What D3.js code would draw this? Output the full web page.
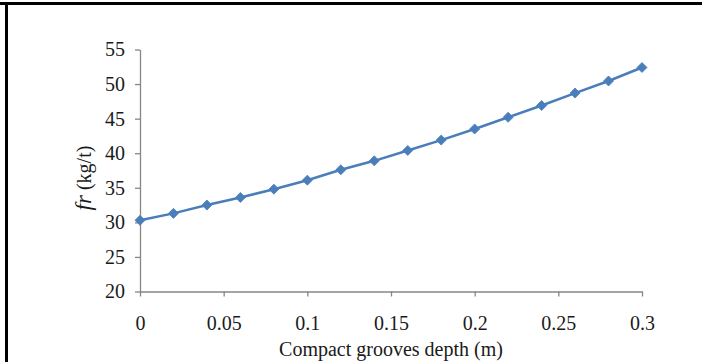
<!DOCTYPE html>
<html>
<head>
<meta charset="utf-8">
<script src="https://cdn.jsdelivr.net/npm/d3@7"></script>
<style>
  html, body { margin: 0; padding: 0; background: #fff; }
  svg { display: block; font-family: "Liberation Serif", "Times New Roman", serif; }
</style>
</head>
<body>
<svg id="chart" width="702" height="362"></svg>
<script>
// groove depth (m) and resistance fr (kg/t)
const depths = [0, 0.02, 0.04, 0.06, 0.08, 0.1, 0.12, 0.14, 0.16, 0.18, 0.2, 0.22, 0.24, 0.26, 0.28, 0.3];
const frValues = [30.3, 31.3, 32.5, 33.6, 34.8, 36.1, 37.6, 38.9, 40.4, 41.9, 43.5, 45.2, 46.9, 48.7, 50.45, 52.4];
const xTicks = [0, 0.05, 0.1, 0.15, 0.2, 0.25, 0.3];
const yTicks = [20, 25, 30, 35, 40, 45, 50, 55];

const svg = d3.select("#chart");
const axisColor = "#868686";
const lineColor = "#4a7ebb";
const textColor = "#1a1a1a";

// frame: thick black top and left edges
svg.append("rect").attr("x", 0).attr("y", 2).attr("width", 702).attr("height", 3).attr("fill", "#000");
svg.append("rect").attr("x", 5).attr("y", 2).attr("width", 3).attr("height", 360).attr("fill", "#000");

const x = d3.scaleLinear().domain([0, 0.3]).range([140, 642]);
const y = d3.scaleLinear().domain([20, 55]).range([291.5, 49.5]);

const xAxis = svg.append("g")
    .attr("transform", `translate(0, ${y(20)})`)
    .call(d3.axisBottom(x).tickValues(xTicks).tickFormat(d3.format("")).tickSizeInner(5).tickSizeOuter(0).tickPadding(19));

const yAxis = svg.append("g")
    .attr("transform", `translate(${x(0)}, 0)`)
    .call(d3.axisLeft(y).tickValues(yTicks).tickSizeInner(5).tickSizeOuter(0).tickPadding(10));

[xAxis, yAxis].forEach(g => {
    g.select(".domain").attr("stroke", axisColor).attr("stroke-width", 1.3);
    g.selectAll(".tick line").attr("stroke", axisColor).attr("stroke-width", 1.3);
    g.selectAll(".tick text").attr("fill", textColor).attr("font-size", 20)
        .attr("font-family", "Liberation Serif, serif");
});

// series line
svg.append("path")
    .datum(depths.map((d, i) => [d, frValues[i]]))
    .attr("fill", "none")
    .attr("stroke", lineColor)
    .attr("stroke-width", 2.5)
    .attr("d", d3.line().x(d => x(d[0])).y(d => y(d[1])));

// diamond markers
svg.append("g").selectAll("path")
    .data(depths)
    .join("path")
    .attr("transform", (d, i) => `translate(${x(d)}, ${y(frValues[i])})`)
    .attr("d", d3.symbol(d3.symbolDiamond2, 64)())
    .attr("fill", lineColor)
    .attr("stroke", lineColor)
    .attr("stroke-width", 0.8);

// axis titles
svg.append("text")
    .attr("x", 391).attr("y", 356)
    .attr("text-anchor", "middle")
    .attr("font-size", 20)
    .attr("fill", textColor)
    .text("Compact grooves depth (m)");

const yTitle = svg.append("text")
    .attr("transform", "translate(91, 178) rotate(-90)")
    .attr("text-anchor", "middle")
    .attr("font-size", 20)
    .attr("fill", textColor);
yTitle.append("tspan").attr("font-style", "italic").attr("font-size", 23).text("fr");
yTitle.append("tspan").text(" (kg/t)");
</script>
</body>
</html>
